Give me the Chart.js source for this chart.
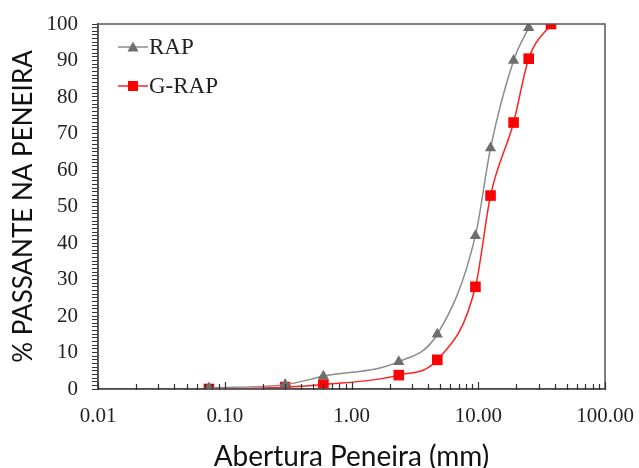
<!DOCTYPE html>
<html>
<head>
<meta charset="utf-8">
<script src="https://cdn.jsdelivr.net/npm/chart.js@4"></script>
<style>
  html, body { margin: 0; padding: 0; background: #fff; }
  #wrap { width: 639px; height: 468px; }
</style>
</head>
<body>
<div id="wrap"><canvas id="granChart" width="639" height="468"></canvas></div>
<script>
// sieve openings (mm) and % passing
const sievesRap = [0.075, 0.3, 0.6, 2.36, 4.75, 9.5, 12.5, 19, 25];
const passRap = [0.3, 1.2, 3.5, 7.5, 15, 42, 66, 90, 99];
const sievesGRap = [0.075, 0.3, 0.6, 2.36, 4.75, 9.5, 12.5, 19, 25, 37.5];
const passGRap = [0, 0.5, 1.2, 3.8, 8, 28, 53, 73, 90.5, 100];
const xMajorTicks = [0.01, 0.1, 1, 10, 100];

const toPoints = (xs, ys) => xs.map((x, i) => ({ x: x, y: ys[i] }));
const isMajor = v => xMajorTicks.some(m => Math.abs(m - v) < 1e-9);

// box around the plot area + inward tick marks on the x axis
const frame = {
    id: 'frame',
    afterDraw(chart) {
        const a = chart.chartArea, ctx = chart.ctx;
        const xs = chart.scales.x;
        ctx.save();
        ctx.strokeStyle = '#555';
        ctx.lineWidth = 1.5;
        ctx.strokeRect(a.left, a.top, a.right - a.left, a.bottom - a.top);
        ctx.strokeStyle = '#333';
        ctx.lineWidth = 1.2;
        xs.ticks.forEach(t => {
            const px = Math.round(xs.getPixelForValue(t.value)) + 0.5;
            const len = isMajor(t.value) ? 7 : 5;
            ctx.beginPath();
            ctx.moveTo(px, a.bottom + 1);
            ctx.lineTo(px, a.bottom - len);
            ctx.stroke();
        });
        ctx.restore();
    }
};

// legend inside the plot: short line with the marker, then the label
const insideLegend = {
    id: 'insideLegend',
    afterDraw(chart) {
        const ctx = chart.ctx;
        const rows = [47, 86];
        ctx.save();
        chart.data.datasets.forEach((ds, i) => {
            const y = rows[i];
            ctx.strokeStyle = ds.borderColor;
            ctx.lineWidth = 1.5;
            ctx.beginPath(); ctx.moveTo(118, y); ctx.lineTo(148, y); ctx.stroke();
            ctx.fillStyle = ds.backgroundColor;
            if (ds.pointStyle === 'triangle') {
                ctx.beginPath(); ctx.moveTo(133, y - 5.5); ctx.lineTo(138.5, y + 4.5); ctx.lineTo(127.5, y + 4.5); ctx.closePath(); ctx.fill();
            } else {
                ctx.fillRect(128, y - 5, 10, 10);
            }
            ctx.fillStyle = '#222';
            ctx.font = '23px "Liberation Serif"';
            ctx.textBaseline = 'middle';
            ctx.fillText(ds.label, 149, y + 1);
        });
        ctx.restore();
    }
};

new Chart(document.getElementById('granChart'), {
    type: 'line',
    data: {
        datasets: [
            {
                label: 'RAP',
                data: toPoints(sievesRap, passRap),
                borderColor: '#8c8c8c',
                backgroundColor: '#6e6e6e',
                pointStyle: 'triangle',
                pointRadius: 6.5,
                pointBorderWidth: 0,
                borderWidth: 1.5,
                cubicInterpolationMode: 'monotone'
            },
            {
                label: 'G-RAP',
                data: toPoints(sievesGRap, passGRap),
                borderColor: '#ff2020',
                backgroundColor: '#ff0000',
                pointStyle: 'rect',
                pointRadius: 7.5,
                pointBorderWidth: 0,
                borderWidth: 1.5,
                cubicInterpolationMode: 'monotone'
            }
        ]
    },
    options: {
        responsive: false,
        animation: false,
        layout: { padding: { left: 8, right: 34, top: 24, bottom: 0 } },
        scales: {
            x: {
                type: 'logarithmic',
                min: 0.01,
                max: 100,
                grid: { drawOnChartArea: false, drawTicks: false },
                border: { color: '#333', width: 1.5 },
                afterBuildTicks: scale => {
                    const t = [];
                    for (let d = -2; d < 2; d++) {
                        for (let m = 1; m < 10; m++) t.push({ value: m * Math.pow(10, d) });
                    }
                    t.push({ value: 100 });
                    scale.ticks = t;
                },
                ticks: {
                    autoSkip: false,
                    maxRotation: 0,
                    padding: 15,
                    color: '#222',
                    font: { family: 'Liberation Serif', size: 21 },
                    callback: v => isMajor(v) ? v.toFixed(2) : ''
                },
                title: {
                    display: true,
                    text: 'Abertura Peneira (mm)',
                    color: '#111',
                    font: { family: 'Lato', size: 28 },
                    padding: { top: 4, bottom: -6 }
                },
                afterFit: s => {
                    s.height = 79;
                    s.paddingLeft = 0;
                    s.paddingRight = 0;
                }
            },
            y: {
                min: 0,
                max: 100,
                grid: { drawOnChartArea: false, color: '#333', tickLength: 6, lineWidth: 1 },
                border: { color: '#333', width: 1.5 },
                ticks: {
                    stepSize: 1,
                    autoSkip: false,
                    padding: 14,
                    color: '#222',
                    font: { family: 'Liberation Serif', size: 21 },
                    callback: v => v % 10 === 0 ? v : ''
                },
                title: {
                    display: true,
                    text: '% PASSANTE NA PENEIRA',
                    color: '#111',
                    font: { family: 'Lato', size: 26 },
                    padding: { top: 0, bottom: 4 }
                },
                afterFit: s => {
                    s.width = 90;
                    s.paddingTop = 0;
                    s.paddingBottom = 0;
                }
            }
        },
        plugins: {
            legend: { display: false },
            tooltip: { enabled: false }
        }
    },
    plugins: [frame, insideLegend]
});
</script>
</body>
</html>
